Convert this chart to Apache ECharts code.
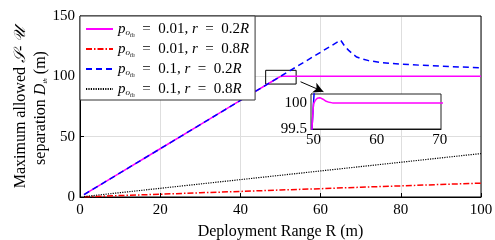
<!DOCTYPE html>
<html><head><meta charset="utf-8">
<script src="https://cdn.jsdelivr.net/npm/echarts@6/dist/echarts.min.js"></script>
<style>html,body{margin:0;padding:0;background:#fff}#c{width:495px;height:240px}</style>
</head><body><div id="c"></div>
<script>
// ---- data ----
const seriesNames = ['p001_02', 'p001_08', 'p01_02', 'p01_08'];
const legendP = ['0.01', '0.01', '0.1', '0.1'];
const legendR = ['0.2', '0.8', '0.2', '0.8'];

const rPink = [1, 10, 20, 30, 40, 49, 49.9, 50, 50.3, 50.6, 51, 51.5, 52, 52.5, 53, 54, 56, 60, 70, 80, 90, 100];
const pink  = [2, 20, 40, 60, 80, 98, 99.8, 99.98, 100.05, 100.09, 100.1, 100.07, 100.03, 100.01, 100.0, 100.0, 100.0, 100.0, 100.0, 100.0, 100.0, 100.0];

const rBlue = [1, 10, 20, 30, 40, 50, 60, 65, 66, 67, 68, 69, 70, 72, 75, 80, 85, 90, 95, 100];
const blue  = [2, 20, 40, 60, 80, 100, 120, 130, 125, 121.5, 118.5, 116, 114.8, 113, 111.5, 110.1, 109.2, 108.4, 107.7, 107.1];

const rLow = [1, 10, 20, 30, 40, 50, 60, 70, 80, 90, 100];
const red   = [0.12, 1.2, 2.3, 3.5, 4.6, 5.8, 6.9, 8.1, 9.2, 10.4, 11.5];
const black = [0.36, 3.6, 7.2, 10.8, 14.4, 18, 21.6, 25.2, 28.8, 32.4, 36];

const xTicks = [0, 20, 40, 60, 80, 100];
const yTicks = [0, 50, 100, 150];
const insetXTicks = [50, 60, 70];
const insetYTicks = [99.5, 100];

const zoomBox = [[46.3, 93.6], [53.9, 105]];
const arrowLine = [[55.0, 95.5], [60.7, 87.3]];

// ---- chart ----
const F = 'Liberation Serif';
const pairs = (xs, ys) => xs.map((x, i) => [x, ys[i]]);
const chart = echarts.init(document.getElementById('c'), null, {renderer: 'canvas'});

const styles = [
  {color: '#ff00ff', type: 'solid', width: 1.5},
  {color: '#ff0000', type: [6, 2, 1.5, 2], width: 1.5},
  {color: '#0000ff', type: [6, 4], width: 1.5},
  {color: '#000000', type: [1.2, 1.2], width: 1.2}
];
const datas = [pairs(rPink, pink), pairs(rLow, red), pairs(rBlue, blue), pairs(rLow, black)];
const zs = [3, 2, 4, 2];

const series = [];
for (let i = 0; i < 4; i++) {
  series.push({
    name: seriesNames[i], type: 'line', xAxisIndex: 0, yAxisIndex: 0,
    data: datas[i], showSymbol: false, symbol: 'none', animation: false,
    lineStyle: styles[i], itemStyle: {color: styles[i].color}, z: zs[i]
  });
}
series[0].markArea = {
  silent: true,
  itemStyle: {color: 'rgba(0,0,0,0)', borderColor: '#000', borderWidth: 1},
  data: [[{coord: zoomBox[0]}, {coord: zoomBox[1]}]]
};
series[0].markLine = {
  silent: true, symbol: ['none', 'arrow'], symbolSize: [8, 10],
  lineStyle: {color: '#000', type: 'solid', width: 1}, label: {show: false},
  data: [[{coord: arrowLine[0]}, {coord: arrowLine[1]}]]
};
// inset copies
series.push({name: seriesNames[2], type: 'line', xAxisIndex: 1, yAxisIndex: 1, data: datas[2], showSymbol: false, symbol: 'none', animation: false, lineStyle: {color: '#0000ff', width: 1.5}, itemStyle: {color: '#0000ff'}, z: 10});
series.push({name: seriesNames[0], type: 'line', xAxisIndex: 1, yAxisIndex: 1, data: datas[0], showSymbol: false, symbol: 'none', animation: false, lineStyle: {color: '#ff00ff', width: 1.5}, itemStyle: {color: '#ff00ff'}, z: 11});

const richL = {
  t: {fontFamily: F, fontSize: 15, color: '#000', lineHeight: 20},
  i: {fontFamily: F, fontSize: 15, fontStyle: 'italic', color: '#000', lineHeight: 20},
  s: {fontFamily: F, fontSize: 9, fontStyle: 'italic', color: '#000', verticalAlign: 'top', padding: [9, 0, 0, 0], lineHeight: 9},
  ss: {fontFamily: F, fontSize: 6, fontStyle: 'italic', color: '#000', verticalAlign: 'top', padding: [13, 0, 0, 0], lineHeight: 6}
};

chart.setOption({
  animation: false,
  backgroundColor: '#fff',
  grid: [
    {left: 80, right: 14, top: 16, bottom: 43, show: true, borderColor: '#000', borderWidth: 1, z: 1, containLabel: false, outerBoundsMode: 'none'},
    {left: 311, width: 130, top: 94, height: 35, show: true, borderColor: '#222', borderWidth: 1, backgroundColor: '#fff', z: 8, containLabel: false, outerBoundsMode: 'none'}
  ],
  legend: {
    left: 80, top: 16, orient: 'vertical', data: seriesNames,
    itemWidth: 27, itemHeight: 14, itemGap: 1,
    itemStyle: {opacity: 0, borderWidth: 0},
    lineStyle: {opacity: 1},
    backgroundColor: '#fff', borderColor: '#333', borderWidth: 1,
    padding: [3, 6, 2, 5], z: 20,
    formatter: function (n) {
      const k = seriesNames.indexOf(n);
      return '{i|p}{s|o}{ss|th}{t|  =  ' + legendP[k] + ', }{i|r}{t|  =  ' + legendR[k] + '}{i|R}';
    },
    textStyle: {fontFamily: F, fontSize: 15, color: '#000', rich: richL}
  },
  xAxis: [
    {type: 'value', gridIndex: 0, min: 0, max: 100, interval: 20,
      axisLine: {lineStyle: {color: '#000'}}, axisTick: {inside: true, length: 4, lineStyle: {color: '#000'}},
      axisLabel: {color: '#000', fontFamily: F, fontSize: 15, margin: 6},
      splitLine: {show: true, lineStyle: {color: '#dedede'}},
      name: 'Deployment Range R (m)', nameLocation: 'middle', nameGap: 27,
      nameTextStyle: {fontFamily: F, fontSize: 16, color: '#000'}},
    {type: 'value', gridIndex: 1, min: 49.6, max: 70.2,
      axisLine: {lineStyle: {color: '#000'}},
      axisTick: {inside: true, length: 3, customValues: insetXTicks, lineStyle: {color: '#000'}},
      axisLabel: {color: '#000', fontFamily: F, fontSize: 15, margin: 4, customValues: insetXTicks},
      splitLine: {show: true, lineStyle: {color: '#dedede'}}}
  ],
  yAxis: [
    {type: 'value', gridIndex: 0, min: 0, max: 150, interval: 50,
      axisLine: {show: true, lineStyle: {color: '#000'}}, axisTick: {show: true, inside: true, length: 4, lineStyle: {color: '#000'}},
      axisLabel: {color: '#000', fontFamily: F, fontSize: 15, margin: 5},
      splitLine: {show: true, lineStyle: {color: '#dedede'}}},
    {type: 'value', gridIndex: 1, min: 99.5, max: 100.17,
      axisLine: {show: true, lineStyle: {color: '#000'}},
      axisTick: {show: true, inside: true, length: 3, customValues: insetYTicks, lineStyle: {color: '#000'}},
      axisLabel: {color: '#000', fontFamily: F, fontSize: 15, margin: 4, customValues: insetYTicks},
      splitLine: {show: false}}
  ],
  graphic: [
    {type: 'text', x: 21, y: 108, rotation: Math.PI / 2, z: 30,
      style: {text: 'Maximum allowed {i|𝒮}- {i|𝒰}', font: '16px "Liberation Serif"', fill: '#000', align: 'center', verticalAlign: 'middle',
        rich: {i: {fontFamily: F, fontSize: 16, fontStyle: 'italic', fill: '#000'}}}},
    {type: 'text', x: 41, y: 108, rotation: Math.PI / 2, z: 30,
      style: {text: 'separation {i|D}{s|th} (m)', font: '16px "Liberation Serif"', fill: '#000', align: 'center', verticalAlign: 'middle',
        rich: {i: {fontFamily: F, fontSize: 16, fontStyle: 'italic', fill: '#000'}, s: {fontFamily: F, fontSize: 7, fontStyle: 'italic', fill: '#000', padding: [8, 0, 0, 0]}}}}
  ],
  series: series
});
</script></body></html>
